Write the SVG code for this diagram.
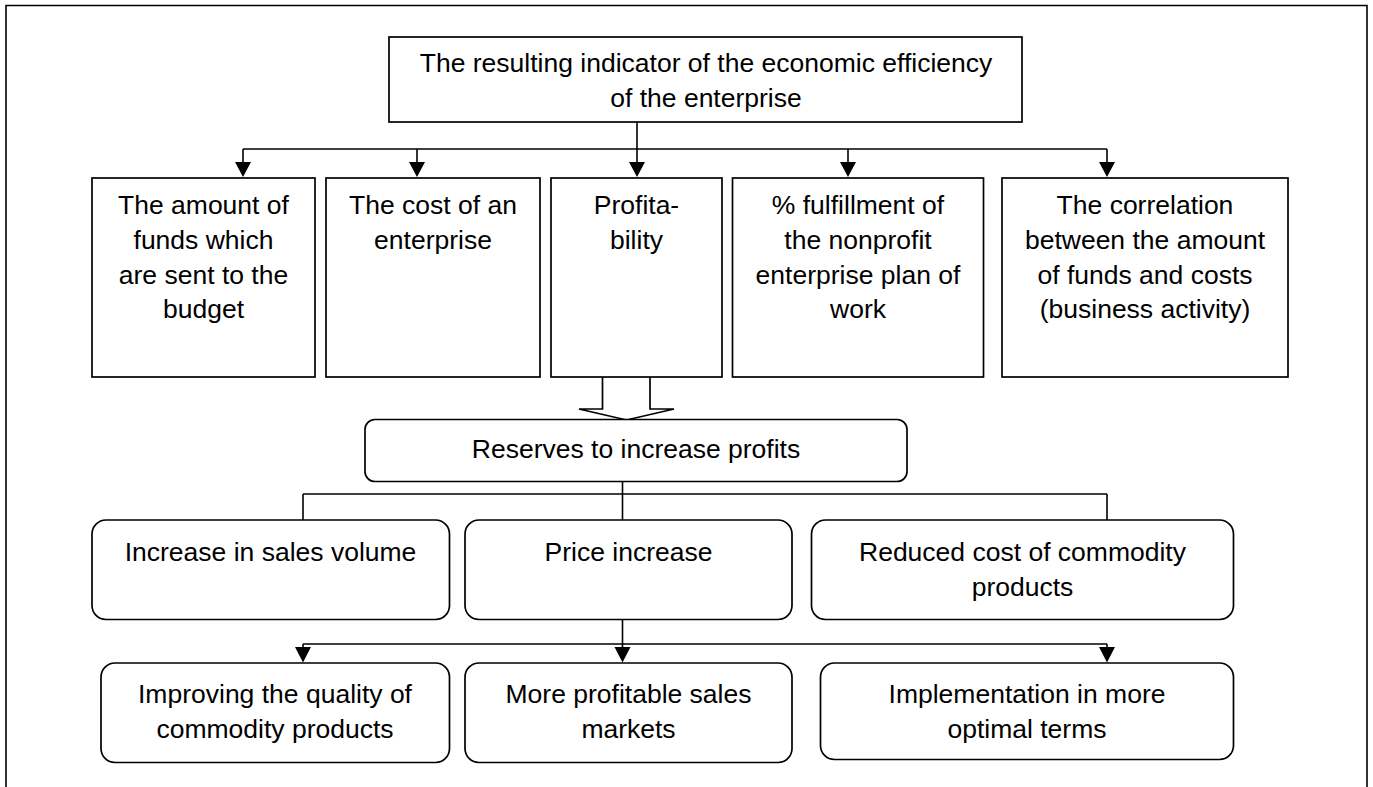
<svg xmlns="http://www.w3.org/2000/svg" width="1373" height="787" viewBox="0 0 1373 787">
<style>
.b{fill:#fff;stroke:#000;stroke-width:1.7}
.l{fill:none;stroke:#000;stroke-width:1.6}
text{font-family:"Liberation Sans",Arial,sans-serif;font-size:26.5px;fill:#000;text-anchor:middle}
</style>
<rect x="0" y="0" width="1373" height="787" fill="#fff"/>
<path class="l" d="M6,800 L6,5.5 L1367,5.5 L1367,800"/>
<g id="connectors">
<path class="l" d="M637,122 L637,162"/>
<path class="l" d="M243,149 L1107,149"/>
<path class="l" d="M243,149 L243,162"/>
<path class="l" d="M417,149 L417,162"/>
<path class="l" d="M848,149 L848,162"/>
<path class="l" d="M1107,149 L1107,162"/>
<path d="M235,162 L251,162 L243,177 Z M409,162 L425,162 L417,177 Z M629,162 L645,162 L637,177 Z M840,162 L856,162 L848,177 Z M1099,162 L1115,162 L1107,177 Z" fill="#000"/>
<path class="b" d="M602.5,377 L602.5,409 L579,409 L626.5,420 L674,409 L650,409 L650,377"/>
<path class="l" d="M622.5,482 L622.5,520"/>
<path class="l" d="M303,494 L1107,494"/>
<path class="l" d="M303,494 L303,520"/>
<path class="l" d="M1107,494 L1107,520"/>
<path class="l" d="M622.5,619 L622.5,648"/>
<path class="l" d="M303,644 L1107,644"/>
<path class="l" d="M303,644 L303,648"/>
<path class="l" d="M1107,644 L1107,648"/>
<path d="M295,647 L311,647 L303,662.5 Z M614.5,647 L630.5,647 L622.5,662.5 Z M1099,647 L1115,647 L1107,662.5 Z" fill="#000"/>
</g>
<g id="top">
<rect class="b" x="389" y="37" width="633" height="85"/>
<text x="706" y="72">The resulting indicator of the economic efficiency</text>
<text x="706" y="107">of the enterprise</text>
</g>
<g id="funds">
<rect class="b" x="92" y="178" width="223" height="199"/>
<text x="203.5" y="214">The amount of</text>
<text x="203.5" y="249">funds which</text>
<text x="203.5" y="283.5">are sent to the</text>
<text x="203.5" y="318">budget</text>
</g>
<g id="cost">
<rect class="b" x="326" y="178" width="214" height="199"/>
<text x="433" y="214">The cost of an</text>
<text x="433" y="249">enterprise</text>
</g>
<g id="profitability">
<rect class="b" x="551" y="178" width="171" height="199"/>
<text x="636.5" y="214">Profita-</text>
<text x="636.5" y="249">bility</text>
</g>
<g id="fulfillment">
<rect class="b" x="732.5" y="178" width="251" height="199"/>
<text x="858" y="214">% fulfillment of</text>
<text x="858" y="249">the nonprofit</text>
<text x="858" y="283.5">enterprise plan of</text>
<text x="858" y="318">work</text>
</g>
<g id="correlation">
<rect class="b" x="1002" y="178" width="286" height="199"/>
<text x="1145" y="214">The correlation</text>
<text x="1145" y="249">between the amount</text>
<text x="1145" y="283.5">of funds and costs</text>
<text x="1145" y="318">(business activity)</text>
</g>
<g id="reserves">
<rect class="b" x="365" y="419.5" width="542" height="62" rx="10"/>
<text x="636" y="458">Reserves to increase profits</text>
</g>
<g id="sales">
<rect class="b" x="92" y="520" width="357.5" height="99.5" rx="14"/>
<text x="270.5" y="561">Increase in sales volume</text>
</g>
<g id="price">
<rect class="b" x="465" y="520" width="327" height="99.5" rx="14"/>
<text x="628.5" y="561">Price increase</text>
</g>
<g id="reducedcost">
<rect class="b" x="811.5" y="520" width="422" height="99.5" rx="14"/>
<text x="1022.5" y="561">Reduced cost of commodity</text>
<text x="1022.5" y="596">products</text>
</g>
<g id="quality">
<rect class="b" x="101" y="663" width="348.5" height="99.5" rx="14"/>
<text x="275" y="703">Improving the quality of</text>
<text x="275" y="738">commodity products</text>
</g>
<g id="markets">
<rect class="b" x="465" y="663" width="327" height="99.5" rx="14"/>
<text x="628.5" y="703">More profitable sales</text>
<text x="628.5" y="738">markets</text>
</g>
<g id="terms">
<rect class="b" x="820.5" y="663" width="413" height="96.5" rx="14"/>
<text x="1027" y="703">Implementation in more</text>
<text x="1027" y="738">optimal terms</text>
</g>
</svg>
